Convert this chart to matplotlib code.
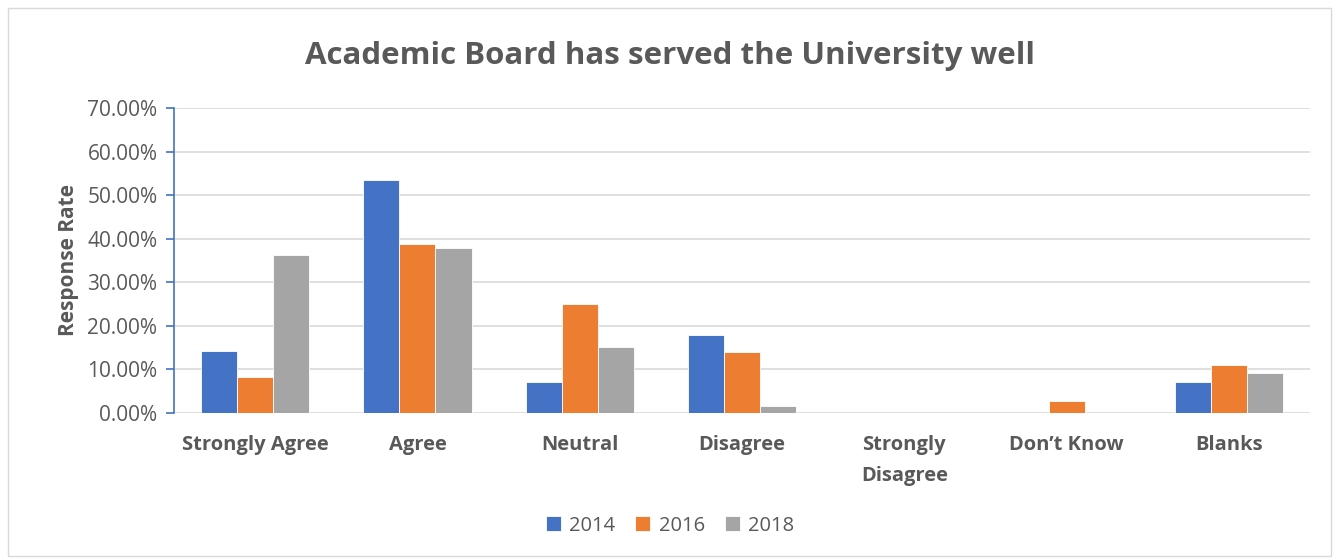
import numpy as np
import matplotlib
matplotlib.use("Agg")
import matplotlib.pyplot as plt
from matplotlib.ticker import FuncFormatter
from matplotlib.patches import Rectangle

plt.rcParams['font.family'] = ['Open Sans', 'DejaVu Sans']

categories = ['Strongly Agree', 'Agree', 'Neutral', 'Disagree',
              'Strongly\nDisagree', 'Don\u2019t Know', 'Blanks']
years = ['2014', '2016', '2018']
vals_2014 = [14.29, 53.57, 7.14, 17.86, 0.0, 0.0, 7.14]
vals_2016 = [8.33, 38.89, 25.00, 13.89, 0.0, 2.78, 11.11]
vals_2018 = [36.36, 37.88, 15.15, 1.52, 0.0, 0.0, 9.09]
colors = ['#4472C4', '#ED7D31', '#A5A5A5']

fig = plt.figure(figsize=(13.4, 5.58), dpi=100)
ax = fig.add_axes([0.1299, 0.2599, 0.8477, 0.5466])

# chart border
fig.patches.append(Rectangle((0.006, 0.004), 0.987, 0.982, transform=fig.transFigure,
                             fill=False, edgecolor='#D9D9D9', linewidth=1))

x = np.arange(len(categories))
w = 0.222
for i, (yr, vals) in enumerate(zip(years, [vals_2014, vals_2016, vals_2018])):
    ax.bar(x + (i - 1) * w, vals, width=w, color=colors[i], edgecolor='white',
           linewidth=0.6, label=yr, zorder=3)

ax.set_xlim(-0.5, len(categories) - 0.5)
ax.set_ylim(0, 70)
ax.set_yticks(np.arange(0, 71, 10))
ax.yaxis.set_major_formatter(FuncFormatter(lambda v, p: f'{v:.2f}%'))
ax.grid(axis='y', color='#D9D9D9', linewidth=1.2, zorder=0)
ax.set_axisbelow(True)

for s in ['top', 'right', 'bottom']:
    ax.spines[s].set_visible(False)
ax.spines['left'].set_color('#4472C4')
ax.spines['left'].set_linewidth(1.2)
ax.tick_params(axis='y', colors='#4472C4', labelcolor='#595959', labelsize=15,
               length=6, width=1.2, direction='out', pad=6)
ax.tick_params(axis='x', length=0, pad=16)
ax.set_xticks(x)
ax.set_xticklabels(categories, fontsize=14.5, fontweight='bold', color='#595959',
                   va='top', linespacing=1.75)

ax.set_ylabel('Response Rate', fontsize=15, fontweight='bold', color='#595959', labelpad=6)
fig.text(0.5, 0.9, 'Academic Board has served the University well', ha='center',
         va='center', fontsize=22.5, fontweight='bold', color='#595959')

fig.legend(loc='center', bbox_to_anchor=(0.5, 0.058), ncol=3, frameon=False,
           fontsize=14.5, handlelength=0.75, handleheight=0.75, handletextpad=0.4,
           columnspacing=1.0, labelcolor='#595959')

fig.savefig('out.png', dpi=100)
